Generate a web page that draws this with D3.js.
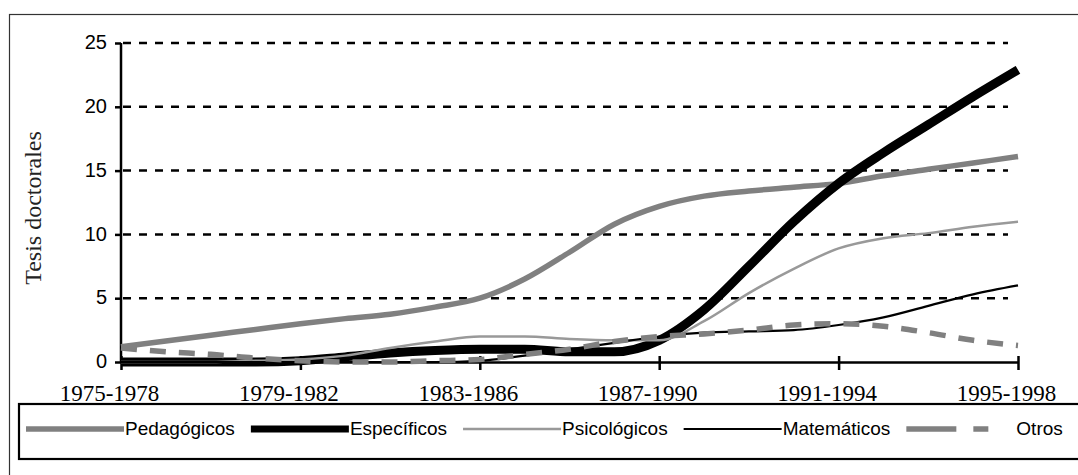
<!DOCTYPE html>
<html>
<head>
<meta charset="utf-8">
<script src="https://cdn.jsdelivr.net/npm/d3@7"></script>
<style>
  body { margin: 0; background: #fff; }
</style>
</head>
<body>
<div id="chart"></div>
<script>
// data, one value per period
var periods = ["1975-1978", "1976-1979", "1977-1980", "1978-1981", "1979-1982",
               "1980-1983", "1981-1984", "1982-1985", "1983-1986", "1984-1987",
               "1985-1988", "1986-1989", "1987-1990", "1988-1991", "1989-1992",
               "1990-1993", "1991-1994", "1992-1995", "1993-1996", "1994-1997",
               "1995-1998"];
var pedagogicos  = [1.2, 1.65, 2.1, 2.55, 3.0, 3.4, 3.75, 4.3, 5.0, 6.5, 8.6, 10.8, 12.2, 13.0, 13.4, 13.7, 14.0, 14.6, 15.1, 15.6, 16.1];
var especificos  = [0, 0, 0, 0, 0.1, 0.4, 0.7, 0.9, 1.0, 1.0, 0.8, 0.8, 1.7, 4.1, 7.5, 11.0, 14.0, 16.4, 18.6, 20.8, 22.9];
var psicologicos = [0, 0, 0, 0.1, 0.2, 0.5, 1.1, 1.6, 2.0, 2.0, 1.8, 1.7, 1.7, 3.2, 5.4, 7.3, 8.9, 9.7, 10.1, 10.6, 11.0];
var matematicos  = [0, 0, 0, 0, 0, 0, 0, 0, 0.1, 0.5, 1.0, 1.5, 2.0, 2.3, 2.4, 2.5, 2.9, 3.5, 4.4, 5.3, 6.0];
var otros        = [1.1, 0.8, 0.6, 0.3, 0.1, 0, 0, 0.1, 0.2, 0.6, 1.0, 1.6, 2.0, 2.2, 2.5, 2.9, 3.0, 2.8, 2.3, 1.7, 1.3];
var seriesNames  = ["Pedagógicos", "Específicos", "Psicológicos", "Matemáticos", "Otros"];
var yTicks = [0, 5, 10, 15, 20, 25];

// look of each series
var styles = [
  {color: "#808080", width: 5.5, dash: null,    legendDash: null},
  {color: "#000000", width: 9,   dash: null,    legendDash: null},
  {color: "#999999", width: 2.5, dash: null,    legendDash: null},
  {color: "#000000", width: 2.2, dash: null,    legendDash: null},
  {color: "#808080", width: 5.5, dash: "16,13", legendDash: "50,17,15,40"}
];

var series = [pedagogicos, especificos, psicologicos, matematicos, otros].map(function(vals, i) {
  return {name: seriesNames[i], style: styles[i],
          values: vals.map(function(v, j) { return {period: periods[j], value: v}; })};
});

var W = 1078, H = 475;
var margin = {top: 43, left: 121},
    width = 897,
    height = 319;

var svg = d3.select("#chart")
  .append("svg")
    .attr("width", W)
    .attr("height", H);

// outer frame (runs off the right and bottom edges)
svg.append("rect")
  .attr("x", 9.5).attr("y", 14.5)
  .attr("width", 1200).attr("height", 600)
  .attr("fill", "none")
  .attr("stroke", "#333")
  .attr("stroke-width", 1.2);

var g = svg.append("g")
  .attr("transform", "translate(" + margin.left + "," + margin.top + ")");

var x = d3.scalePoint()
  .domain(periods)
  .range([0, width]);

var y = d3.scaleLinear()
  .domain([0, 25])
  .range([height, 0]);

// dashed gridlines
g.selectAll(".grid")
  .data(yTicks.filter(function(d) { return d > 0; }))
  .enter()
  .append("line")
    .attr("x1", 0)
    .attr("x2", width - 10)
    .attr("y1", function(d) { return y(d); })
    .attr("y2", function(d) { return y(d); })
    .attr("stroke", "#000")
    .attr("stroke-width", 2.5)
    .attr("stroke-dasharray", "8,8")
    .attr("stroke-dashoffset", -2);

// y axis
var yAxis = g.append("g")
  .call(d3.axisLeft(y).tickValues(yTicks).tickSize(6).tickPadding(8));
yAxis.select(".domain").attr("stroke-width", 2.5).attr("d", "M0," + y(25) + "V" + y(0));
yAxis.selectAll(".tick line").attr("stroke-width", 2.5);
yAxis.selectAll("text")
  .attr("font-family", "'Liberation Sans', Arial, sans-serif")
  .attr("font-size", 20)
  .attr("fill", "#000")
  .attr("dy", "0.28em");

// x axis, labels every fourth period
var xAxis = g.append("g")
  .attr("transform", "translate(0," + height + ")")
  .call(d3.axisBottom(x)
    .tickValues(periods.filter(function(d, i) { return i % 4 === 0; }))
    .tickSize(8).tickSizeOuter(0));
xAxis.select(".domain").attr("stroke-width", 2.5);
xAxis.selectAll(".tick line")
  .attr("stroke-width", 2.5)
  .attr("y1", -6);
xAxis.selectAll("text")
  .attr("font-family", "'Liberation Serif', 'Times New Roman', serif")
  .attr("font-size", 23)
  .attr("fill", "#000")
  .attr("y", 39)
  .attr("dy", 0)
  .attr("dx", -12);

// y title
svg.append("text")
  .attr("transform", "translate(41,208) rotate(-90)")
  .attr("text-anchor", "middle")
  .attr("font-family", "'Liberation Serif', 'Times New Roman', serif")
  .attr("font-size", 24)
  .attr("fill", "#222")
  .text("Tesis doctorales");

// lines
var line = d3.line()
  .x(function(d) { return x(d.period); })
  .y(function(d) { return y(d.value); })
  .curve(d3.curveMonotoneX);

g.selectAll(".series")
  .data(series)
  .enter()
  .append("path")
    .attr("class", "series")
    .attr("d", function(d) { return line(d.values); })
    .attr("fill", "none")
    .attr("stroke", function(d) { return d.style.color; })
    .attr("stroke-width", function(d) { return d.style.width; })
    .attr("stroke-dasharray", function(d) { return d.style.dash; })
    .attr("stroke-linejoin", "round");

// legend box
svg.append("rect")
  .attr("x", 19).attr("y", 404)
  .attr("width", 1200).attr("height", 55)
  .attr("fill", "#fff")
  .attr("stroke", "#000")
  .attr("stroke-width", 2.2);

var cursor = 26, sampleW = 98, legendY = 429;
series.forEach(function(s) {
  svg.append("line")
    .attr("x1", cursor).attr("x2", cursor + sampleW)
    .attr("y1", legendY).attr("y2", legendY)
    .attr("stroke", s.style.color)
    .attr("stroke-width", Math.min(s.style.width, 7))
    .attr("stroke-dasharray", s.style.legendDash);
  var t = svg.append("text")
    .attr("x", cursor + sampleW + (s.style.legendDash ? 12 : 1))
    .attr("y", legendY + 6)
    .attr("font-family", "'Liberation Sans', Arial, sans-serif")
    .attr("font-size", 19)
    .attr("fill", "#000")
    .text(s.name);
  cursor += sampleW + 2 + t.node().getComputedTextLength() + 15;
});
</script>
</body>
</html>
